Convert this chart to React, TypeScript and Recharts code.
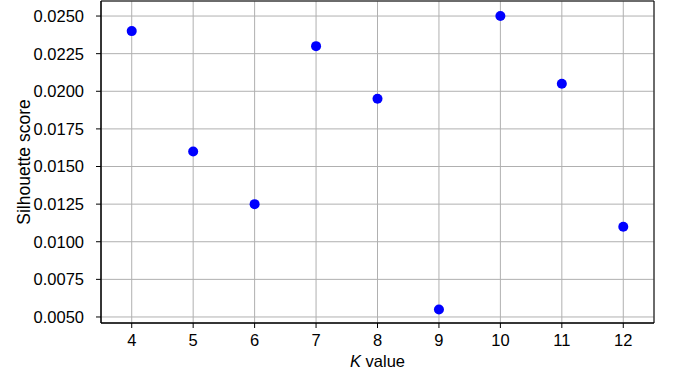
import React from "react";
import {
  ScatterChart,
  Scatter,
  XAxis,
  YAxis,
  CartesianGrid,
  ReferenceArea,
  Label,
} from "recharts";

const kValues = [4, 5, 6, 7, 8, 9, 10, 11, 12];
const silhouette = [0.024, 0.016, 0.0125, 0.023, 0.0195, 0.0055, 0.025, 0.0205, 0.011];
const xTicks = [4, 5, 6, 7, 8, 9, 10, 11, 12];
const yTicks = [0.005, 0.0075, 0.01, 0.0125, 0.015, 0.0175, 0.02, 0.0225, 0.025];

const X_DOMAIN: [number, number] = [3.5, 12.5];
const Y_DOMAIN: [number, number] = [0.0046, 0.026];

const data = kValues.map((k, i) => ({ k, score: silhouette[i] }));

const FONT = "'Liberation Sans', Arial, Helvetica, sans-serif";
const tickStyle = { fontSize: 16.5, fill: "#000", fontFamily: FONT };

function XTitle(props: any) {
  const vb = props.viewBox || {};
  return (
    <text
      x={vb.x + vb.width / 2}
      y={vb.y + 44}
      textAnchor="middle"
      fontSize={16.5}
      fontFamily={FONT}
      fill="#000"
    >
      <tspan fontStyle="italic">K</tspan> value
    </text>
  );
}

function YTitle(props: any) {
  const vb = props.viewBox || {};
  const cx = vb.x + 24;
  const cy = vb.y + vb.height / 2;
  return (
    <text
      x={cx}
      y={cy}
      transform={`rotate(-90 ${cx} ${cy})`}
      textAnchor="middle"
      dominantBaseline="central"
      fontSize={17.5}
      fontFamily={FONT}
      fill="#000"
    >
      Silhouette score
    </text>
  );
}

export default function App() {
  return (
    <div style={{ position: "absolute", left: 0, top: 0, background: "#fff" }}>
      <ScatterChart
        width={673}
        height={377}
        margin={{ top: 1, right: 19, bottom: 0, left: 0 }}
      >
        <XAxis
          type="number"
          dataKey="k"
          domain={X_DOMAIN}
          ticks={xTicks}
          allowDataOverflow
          height={54}
          tick={tickStyle}
          tickSize={5}
          tickMargin={6}
          stroke="#000"
          axisLine={{ stroke: "#000" }}
          tickLine={{ stroke: "#000" }}
        >
          <Label content={<XTitle />} />
        </XAxis>
        <YAxis
          type="number"
          dataKey="score"
          domain={Y_DOMAIN}
          ticks={yTicks}
          allowDataOverflow
          width={101}
          tick={tickStyle}
          tickFormatter={(v: number) => v.toFixed(4)}
          tickSize={5}
          tickMargin={12}
          stroke="#000"
          axisLine={{ stroke: "#000" }}
          tickLine={{ stroke: "#000" }}
        >
          <Label content={<YTitle />} />
        </YAxis>
        <Scatter
          data={data}
          fill="#0000ff"
          isAnimationActive={false}
          shape={(p: any) => <circle cx={p.cx} cy={p.cy} r={5} fill="#0000ff" />}
        />
        <CartesianGrid stroke="#b0b0b0" strokeWidth={1} />
        <ReferenceArea
          x1={X_DOMAIN[0]}
          x2={X_DOMAIN[1]}
          y1={Y_DOMAIN[0]}
          y2={Y_DOMAIN[1]}
          stroke="#000"
          strokeWidth={1}
          fill="none"
          fillOpacity={0}
          ifOverflow="visible"
        />
      </ScatterChart>
    </div>
  );
}
